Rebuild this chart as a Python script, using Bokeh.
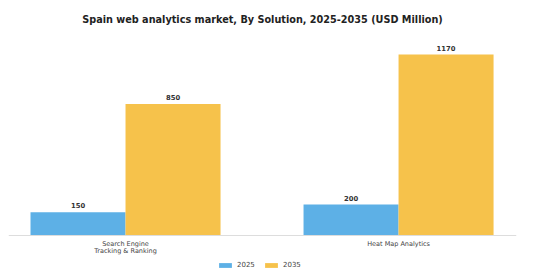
from bokeh.plotting import figure
from bokeh.models import ColumnDataSource, Range1d, Legend, LegendItem, Span
from bokeh.core.properties import value
from bokeh.embed import file_html
from bokeh.resources import INLINE

categories = ["Search Engine\nTracking & Ranking", "Heat Map Analytics"]
years = ["2025", "2035"]
values_2025 = [150, 200]
values_2035 = [850, 1170]
colors = ["#5DB0E6", "#F6C24B"]

xs = list(range(len(categories)))
bw = 0.348

p = figure(width=560, height=280, output_backend="svg", toolbar_location=None,
           x_range=Range1d(-0.4286, 1.432), y_range=Range1d(-291, 1293),
           min_border_left=8, min_border_right=44, min_border_top=10, min_border_bottom=0)
p.title.text = "Spain web analytics market, By Solution, 2025-2035 (USD Million)"
p.title.align = "center"
p.title.text_font = "DejaVu Sans"
p.title.text_font_size = "9.7px"
p.title.text_font_style = "bold"
p.title.text_color = "#222222"
p.title.offset = 0
p.title.standoff = 22

s1 = ColumnDataSource(dict(x=[x - bw / 2 for x in xs], top=values_2025,
                           lab=[str(v) for v in values_2025]))
s2 = ColumnDataSource(dict(x=[x + bw / 2 for x in xs], top=values_2035,
                           lab=[str(v) for v in values_2035]))
r1 = p.vbar(x="x", top="top", width=bw, bottom=0, source=s1, color=colors[0], line_color=None)
r2 = p.vbar(x="x", top="top", width=bw, bottom=0, source=s2, color=colors[1], line_color=None)

for s in (s1, s2):
    p.text(x="x", y="top", text="lab", source=s, text_align="center", text_baseline="bottom",
           y_offset=-4, text_font=value("DejaVu Sans"), text_font_size="6.8px",
           text_font_style="bold", text_color="#333333")

# category axis: baseline and labels
p.add_layout(Span(location=0, dimension="width", line_color="#DDDDDD", line_width=1))
cat_src = ColumnDataSource(dict(x=xs, y=[0] * len(xs), lab=categories))
p.text(x="x", y="y", text="lab", source=cat_src, text_align="center", text_baseline="top",
       y_offset=5, text_font=value("DejaVu Sans"), text_font_size="6.5px",
       text_color="#444444", text_line_height=0.8)

p.xaxis.visible = False
p.yaxis.visible = False
p.xgrid.visible = False
p.ygrid.visible = False
p.outline_line_color = None

legend = Legend(items=[LegendItem(label=years[0], renderers=[r1]),
                       LegendItem(label=years[1], renderers=[r2])],
                orientation="horizontal", location=(209, 11),
                border_line_color=None, background_fill_alpha=0,
                label_text_font="DejaVu Sans", label_text_font_size="7px",
                label_text_color="#444444", glyph_width=16, glyph_height=6,
                label_height=8, spacing=6, label_standoff=4, padding=0, margin=0)
p.add_layout(legend, "center")

open("out.html", "w").write(file_html(p, INLINE))
